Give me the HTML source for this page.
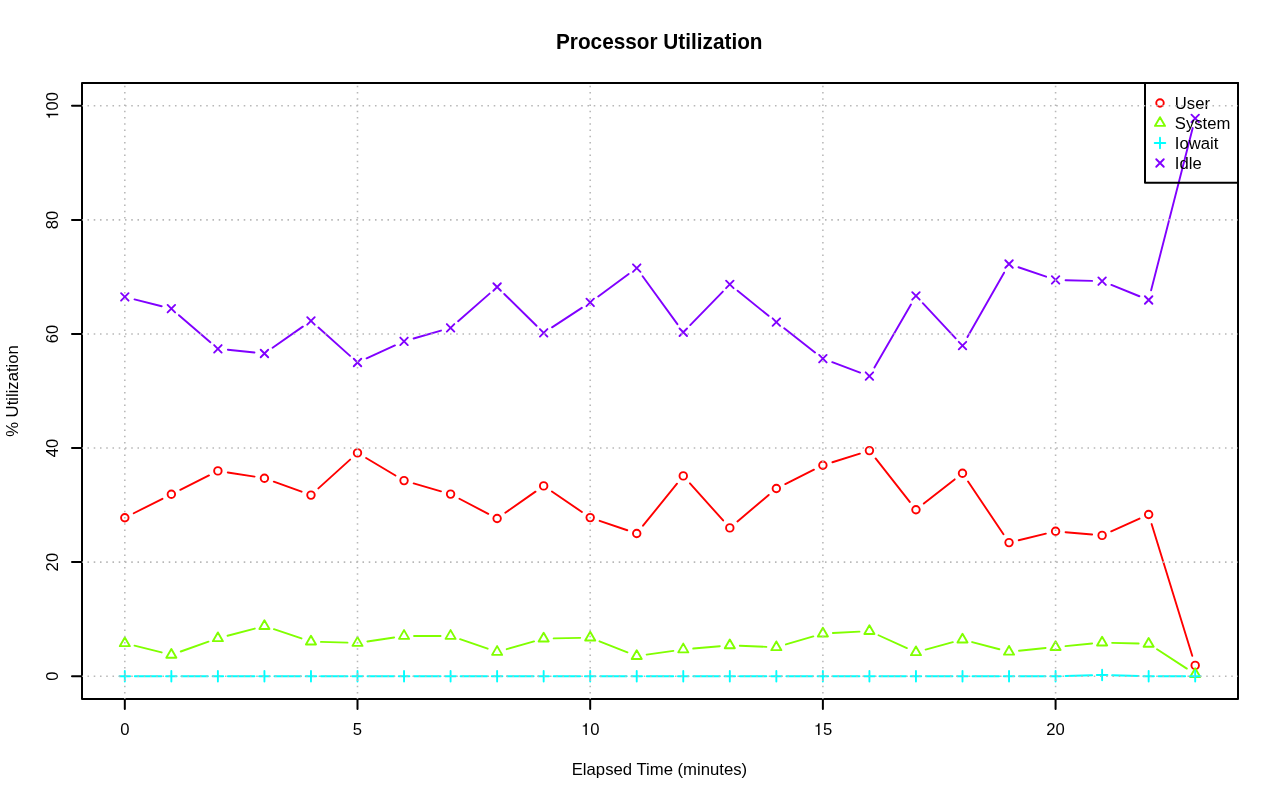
<!DOCTYPE html>
<html><head><meta charset="utf-8"><title>Processor Utilization</title>
<style>html,body{margin:0;padding:0;background:#fff;}svg{display:block;will-change:transform;} text{font-family:"Liberation Sans",sans-serif;}</style>
</head><body>
<svg width="1280" height="801" viewBox="0 0 1280 801">
<defs><path id="one" d="M356 0L267 0L267 503L112 503L112 568C232 581 262 602 285 709L356 709Z"/></defs>
<rect width="1280" height="801" fill="#fff"/>
<g fill="none" stroke="#FF0000" stroke-width="1.9000" stroke-linecap="round" stroke-linejoin="round">
<path d="M133.75 513.25L162.42 498.80M180.29 489.81L208.96 475.39M227.77 472.45L254.55 476.65M273.83 481.61L301.57 491.69M318.37 488.38L350.10 459.62M366.10 458.01L395.45 475.49M413.65 483.39L440.98 491.31M459.44 498.74L488.26 513.86M505.31 512.76L535.47 491.64M551.92 491.53L581.93 511.97M599.66 520.83L627.27 530.27M643.02 525.72L676.99 483.68M689.94 483.35L723.14 520.45M737.44 521.44L768.71 494.96M785.29 484.03L813.94 469.72M832.42 462.25L859.88 453.60M875.61 458.46L909.78 501.89M923.83 503.57L954.63 479.38M968.07 481.51L1003.47 534.29M1018.75 540.24L1045.86 533.66M1065.54 532.18L1092.15 534.52M1111.24 531.30L1139.53 518.60M1151.60 524.06L1192.24 655.84"/>
<circle cx="124.81" cy="517.75" r="3.750"/>
<circle cx="171.35" cy="494.30" r="3.750"/>
<circle cx="217.89" cy="470.90" r="3.750"/>
<circle cx="264.43" cy="478.20" r="3.750"/>
<circle cx="310.97" cy="495.10" r="3.750"/>
<circle cx="357.50" cy="452.90" r="3.750"/>
<circle cx="404.04" cy="480.60" r="3.750"/>
<circle cx="450.58" cy="494.10" r="3.750"/>
<circle cx="497.12" cy="518.50" r="3.750"/>
<circle cx="543.66" cy="485.90" r="3.750"/>
<circle cx="590.19" cy="517.60" r="3.750"/>
<circle cx="636.73" cy="533.50" r="3.750"/>
<circle cx="683.27" cy="475.90" r="3.750"/>
<circle cx="729.81" cy="527.90" r="3.750"/>
<circle cx="776.35" cy="488.50" r="3.750"/>
<circle cx="822.88" cy="465.25" r="3.750"/>
<circle cx="869.42" cy="450.60" r="3.750"/>
<circle cx="915.96" cy="509.75" r="3.750"/>
<circle cx="962.50" cy="473.20" r="3.750"/>
<circle cx="1009.04" cy="542.60" r="3.750"/>
<circle cx="1055.58" cy="531.30" r="3.750"/>
<circle cx="1102.11" cy="535.40" r="3.750"/>
<circle cx="1148.65" cy="514.50" r="3.750"/>
<circle cx="1195.19" cy="665.40" r="3.750"/>
</g>
<g fill="none" stroke="#80FF00" stroke-width="1.9000" stroke-linecap="round" stroke-linejoin="round">
<path d="M134.52 645.67L161.65 652.43M180.77 651.49L208.47 641.61M227.56 635.71L254.76 628.59M273.91 629.22L301.48 638.43M320.96 641.89L347.51 642.66M367.39 641.46L394.15 637.44M414.04 635.95L440.58 635.95M460.04 639.20L487.66 648.70M506.73 649.19L534.04 641.36M553.65 638.40L580.20 637.85M599.49 641.33L627.43 652.37M646.63 654.65L673.37 650.85M693.23 648.57L719.85 646.23M739.80 645.76L766.36 646.84M785.94 644.43L813.29 636.37M832.87 633.02L859.44 631.63M878.53 635.24L906.86 648.11M925.61 649.62L952.85 642.18M972.17 642.09L999.36 649.21M1018.99 650.75L1045.63 648.05M1065.53 646.09L1092.16 643.51M1112.11 642.83L1138.65 643.57M1157.04 649.29L1186.80 668.61"/>
<path d="M124.81 637.42L129.87 646.17L119.76 646.17Z"/>
<path d="M171.35 649.02L176.40 657.77L166.30 657.77Z"/>
<path d="M217.89 632.42L222.94 641.17L212.84 641.17Z"/>
<path d="M264.43 620.22L269.48 628.97L259.38 628.97Z"/>
<path d="M310.97 635.77L316.02 644.52L305.92 644.52Z"/>
<path d="M357.50 637.12L362.56 645.87L352.45 645.87Z"/>
<path d="M404.04 630.12L409.09 638.87L398.99 638.87Z"/>
<path d="M450.58 630.12L455.63 638.87L445.53 638.87Z"/>
<path d="M497.12 646.12L502.17 654.87L492.07 654.87Z"/>
<path d="M543.66 632.77L548.71 641.52L538.61 641.52Z"/>
<path d="M590.19 631.82L595.25 640.57L585.14 640.57Z"/>
<path d="M636.73 650.22L641.78 658.97L631.68 658.97Z"/>
<path d="M683.27 643.62L688.32 652.37L678.22 652.37Z"/>
<path d="M729.81 639.52L734.86 648.27L724.76 648.27Z"/>
<path d="M776.35 641.42L781.40 650.17L771.30 650.17Z"/>
<path d="M822.88 627.72L827.94 636.47L817.83 636.47Z"/>
<path d="M869.42 625.27L874.47 634.02L864.37 634.02Z"/>
<path d="M915.96 646.42L921.01 655.17L910.91 655.17Z"/>
<path d="M962.50 633.72L967.55 642.47L957.45 642.47Z"/>
<path d="M1009.04 645.92L1014.09 654.67L1003.99 654.67Z"/>
<path d="M1055.58 641.22L1060.63 649.97L1050.52 649.97Z"/>
<path d="M1102.11 636.72L1107.16 645.47L1097.06 645.47Z"/>
<path d="M1148.65 638.02L1153.70 646.77L1143.60 646.77Z"/>
<path d="M1195.19 668.22L1200.24 676.97L1190.14 676.97Z"/>
</g>
<g fill="none" stroke="#00FFFF" stroke-width="1.9000" stroke-linecap="round" stroke-linejoin="round">
<path d="M134.81 676.18L161.35 676.18M181.35 676.18L207.89 676.18M227.89 676.18L254.43 676.18M274.43 676.18L300.97 676.18M320.97 676.18L347.50 676.18M367.50 676.18L394.04 676.18M414.04 676.18L440.58 676.18M460.58 676.18L487.12 676.18M507.12 676.18L533.66 676.18M553.66 676.18L580.19 676.18M600.19 676.18L626.73 676.18M646.73 676.18L673.27 676.18M693.27 676.18L719.81 676.18M739.81 676.18L766.35 676.18M786.35 676.18L812.88 676.18M832.88 676.18L859.42 676.18M879.42 676.18L905.96 676.18M925.96 676.18L952.50 676.18M972.50 676.18L999.04 676.18M1019.04 676.18L1045.58 676.18M1065.57 675.94L1092.12 675.29M1112.11 675.29L1138.65 675.94M1158.65 676.18L1185.19 676.18"/>
<path d="M119.51 676.18L130.12 676.18M124.81 670.88L124.81 681.49"/>
<path d="M166.05 676.18L176.66 676.18M171.35 670.88L171.35 681.49"/>
<path d="M212.59 676.18L223.19 676.18M217.89 670.88L217.89 681.49"/>
<path d="M259.13 676.18L269.73 676.18M264.43 670.88L264.43 681.49"/>
<path d="M305.66 676.18L316.27 676.18M310.97 670.88L310.97 681.49"/>
<path d="M352.20 676.18L362.81 676.18M357.50 670.88L357.50 681.49"/>
<path d="M398.74 676.18L409.35 676.18M404.04 670.88L404.04 681.49"/>
<path d="M445.28 676.18L455.88 676.18M450.58 670.88L450.58 681.49"/>
<path d="M491.82 676.18L502.42 676.18M497.12 670.88L497.12 681.49"/>
<path d="M538.35 676.18L548.96 676.18M543.66 670.88L543.66 681.49"/>
<path d="M584.89 676.18L595.50 676.18M590.19 670.88L590.19 681.49"/>
<path d="M631.43 676.18L642.04 676.18M636.73 670.88L636.73 681.49"/>
<path d="M677.97 676.18L688.57 676.18M683.27 670.88L683.27 681.49"/>
<path d="M724.51 676.18L735.11 676.18M729.81 670.88L729.81 681.49"/>
<path d="M771.04 676.18L781.65 676.18M776.35 670.88L776.35 681.49"/>
<path d="M817.58 676.18L828.19 676.18M822.88 670.88L822.88 681.49"/>
<path d="M864.12 676.18L874.73 676.18M869.42 670.88L869.42 681.49"/>
<path d="M910.66 676.18L921.26 676.18M915.96 670.88L915.96 681.49"/>
<path d="M957.20 676.18L967.80 676.18M962.50 670.88L962.50 681.49"/>
<path d="M1003.73 676.18L1014.34 676.18M1009.04 670.88L1009.04 681.49"/>
<path d="M1050.27 676.18L1060.88 676.18M1055.58 670.88L1055.58 681.49"/>
<path d="M1096.81 675.04L1107.42 675.04M1102.11 669.74L1102.11 680.35"/>
<path d="M1143.35 676.18L1153.95 676.18M1148.65 670.88L1148.65 681.49"/>
<path d="M1189.89 676.18L1200.49 676.18M1195.19 670.88L1195.19 681.49"/>
</g>
<g fill="none" stroke="#8000FF" stroke-width="1.9000" stroke-linecap="round" stroke-linejoin="round">
<path d="M134.51 299.36L161.66 306.24M178.93 315.23L210.32 342.27M227.84 349.80L254.48 352.50M272.62 347.76L302.78 326.64M318.42 327.56L350.05 355.84M366.61 358.35L394.94 345.45M413.65 338.51L440.98 330.59M458.10 321.21L489.60 293.59M504.25 294.01L536.53 325.79M552.03 327.33L581.82 307.87M598.24 296.47L628.68 274.03M642.61 276.19L677.40 324.16M690.24 325.08L722.84 291.57M737.58 290.69L768.58 315.81M784.21 328.28L815.02 352.52M832.25 362.20L860.06 372.60M874.44 367.45L910.94 304.55M922.80 303.20L955.66 338.30M967.45 336.91L1004.08 272.69M1018.50 267.23L1046.11 276.67M1065.57 280.18L1092.12 280.92M1111.39 284.95L1139.38 296.25M1151.13 290.31L1192.71 128.09"/>
<path d="M121.06 293.15L128.56 300.65M121.06 300.65L128.56 293.15"/>
<path d="M167.60 304.95L175.10 312.45M167.60 312.45L175.10 304.95"/>
<path d="M214.14 345.05L221.64 352.55M214.14 352.55L221.64 345.05"/>
<path d="M260.68 349.75L268.18 357.25M260.68 357.25L268.18 349.75"/>
<path d="M307.22 317.15L314.72 324.65M307.22 324.65L314.72 317.15"/>
<path d="M353.75 358.75L361.25 366.25M353.75 366.25L361.25 358.75"/>
<path d="M400.29 337.55L407.79 345.05M400.29 345.05L407.79 337.55"/>
<path d="M446.83 324.05L454.33 331.55M446.83 331.55L454.33 324.05"/>
<path d="M493.37 283.25L500.87 290.75M493.37 290.75L500.87 283.25"/>
<path d="M539.91 329.05L547.41 336.55M539.91 336.55L547.41 329.05"/>
<path d="M586.44 298.65L593.94 306.15M586.44 306.15L593.94 298.65"/>
<path d="M632.98 264.35L640.48 271.85M632.98 271.85L640.48 264.35"/>
<path d="M679.52 328.50L687.02 336.00M679.52 336.00L687.02 328.50"/>
<path d="M726.06 280.65L733.56 288.15M726.06 288.15L733.56 280.65"/>
<path d="M772.60 318.35L780.10 325.85M772.60 325.85L780.10 318.35"/>
<path d="M819.13 354.95L826.63 362.45M819.13 362.45L826.63 354.95"/>
<path d="M865.67 372.35L873.17 379.85M865.67 379.85L873.17 372.35"/>
<path d="M912.21 292.15L919.71 299.65M912.21 299.65L919.71 292.15"/>
<path d="M958.75 341.85L966.25 349.35M958.75 349.35L966.25 341.85"/>
<path d="M1005.29 260.25L1012.79 267.75M1005.29 267.75L1012.79 260.25"/>
<path d="M1051.83 276.15L1059.33 283.65M1051.83 283.65L1059.33 276.15"/>
<path d="M1098.36 277.45L1105.86 284.95M1098.36 284.95L1105.86 277.45"/>
<path d="M1144.90 296.25L1152.40 303.75M1144.90 303.75L1152.40 296.25"/>
<path d="M1191.44 114.65L1198.94 122.15M1191.44 122.15L1198.94 114.65"/>
</g>
<g fill="none" stroke="#000" stroke-width="2.0000" stroke-linecap="round" stroke-linejoin="round">
<path d="M82 83H1238V699H82Z"/>
<path d="M124.81 699V709M357.50 699V709M590.19 699V709M822.88 699V709M1055.58 699V709M82 676.18H72M82 562.11H72M82 448.04H72M82 333.96H72M82 219.89H72M82 105.81H72"/>
<path d="M1145 83H1238V182.7H1145Z"/>
</g>
<g fill="none" stroke="#FF0000" stroke-width="1.9000" stroke-linecap="round" stroke-linejoin="round"><circle cx="1160.00" cy="103.00" r="3.750"/></g>
<g fill="none" stroke="#80FF00" stroke-width="1.9000" stroke-linecap="round" stroke-linejoin="round"><path d="M1160.00 117.17L1165.05 125.92L1154.95 125.92Z"/></g>
<g fill="none" stroke="#00FFFF" stroke-width="1.9000" stroke-linecap="round" stroke-linejoin="round"><path d="M1154.70 143.00L1165.30 143.00M1160.00 137.70L1160.00 148.30"/></g>
<g fill="none" stroke="#8000FF" stroke-width="1.9000" stroke-linecap="round" stroke-linejoin="round"><path d="M1156.25 159.25L1163.75 166.75M1156.25 166.75L1163.75 159.25"/></g>
<g font-family="Liberation Sans, sans-serif" font-size="16.67" fill="#000">
<g transform="translate(120.181 735)"><text x="0.000" y="0">0</text></g>
<g transform="translate(352.871 735)"><text x="0.000" y="0">5</text></g>
<g transform="translate(580.926 735)"><use href="#one" transform="translate(0.000 0) scale(0.01667 -0.01667)"/><text x="9.269" y="0">0</text></g>
<g transform="translate(813.616 735)"><use href="#one" transform="translate(0.000 0) scale(0.01667 -0.01667)"/><text x="9.269" y="0">5</text></g>
<g transform="translate(1046.306 735)"><text x="0.000" y="0">2</text><text x="9.269" y="0">0</text></g>
<g transform="translate(58.2 676.185) rotate(-90) translate(-4.634 0)"><text x="0.000" y="0">0</text></g>
<g transform="translate(58.2 562.111) rotate(-90) translate(-9.269 0)"><text x="0.000" y="0">2</text><text x="9.269" y="0">0</text></g>
<g transform="translate(58.2 448.037) rotate(-90) translate(-9.269 0)"><text x="0.000" y="0">4</text><text x="9.269" y="0">0</text></g>
<g transform="translate(58.2 333.963) rotate(-90) translate(-9.269 0)"><text x="0.000" y="0">6</text><text x="9.269" y="0">0</text></g>
<g transform="translate(58.2 219.889) rotate(-90) translate(-9.269 0)"><text x="0.000" y="0">8</text><text x="9.269" y="0">0</text></g>
<g transform="translate(58.2 105.815) rotate(-90) translate(-13.903 0)"><use href="#one" transform="translate(0.000 0) scale(0.01667 -0.01667)"/><text x="9.269" y="0">0</text><text x="18.537" y="0">0</text></g>
<text x="659.45" y="775" text-anchor="middle" font-size="16.72">Elapsed Time (minutes)</text>
<text transform="translate(18.0 391) rotate(-90)" text-anchor="middle">% Utilization</text>
<text x="1174.8" y="109.00">User</text>
<text x="1174.8" y="129.00">System</text>
<text x="1174.8" y="149.00">Iowait</text>
<text x="1174.8" y="169.00">Idle</text>
<text transform="translate(659.25 48.85) scale(1 1.04)" text-anchor="middle" font-weight="bold" font-size="20.78">Processor Utilization</text>
</g>
<path d="M124.81 699.00V83.00M357.50 699.00V83.00M590.19 699.00V83.00M822.88 699.00V83.00M1055.58 699.00V83.00M82.00 676.18H1238.00M82.00 562.11H1238.00M82.00 448.04H1238.00M82.00 333.96H1238.00M82.00 219.89H1238.00M82.00 105.81H1238.00" fill="none" stroke="#B8B8B8" stroke-width="1.5625" stroke-dasharray="1.5625 4.6875" stroke-dashoffset="0.78125"/>
</svg>
</body></html>
